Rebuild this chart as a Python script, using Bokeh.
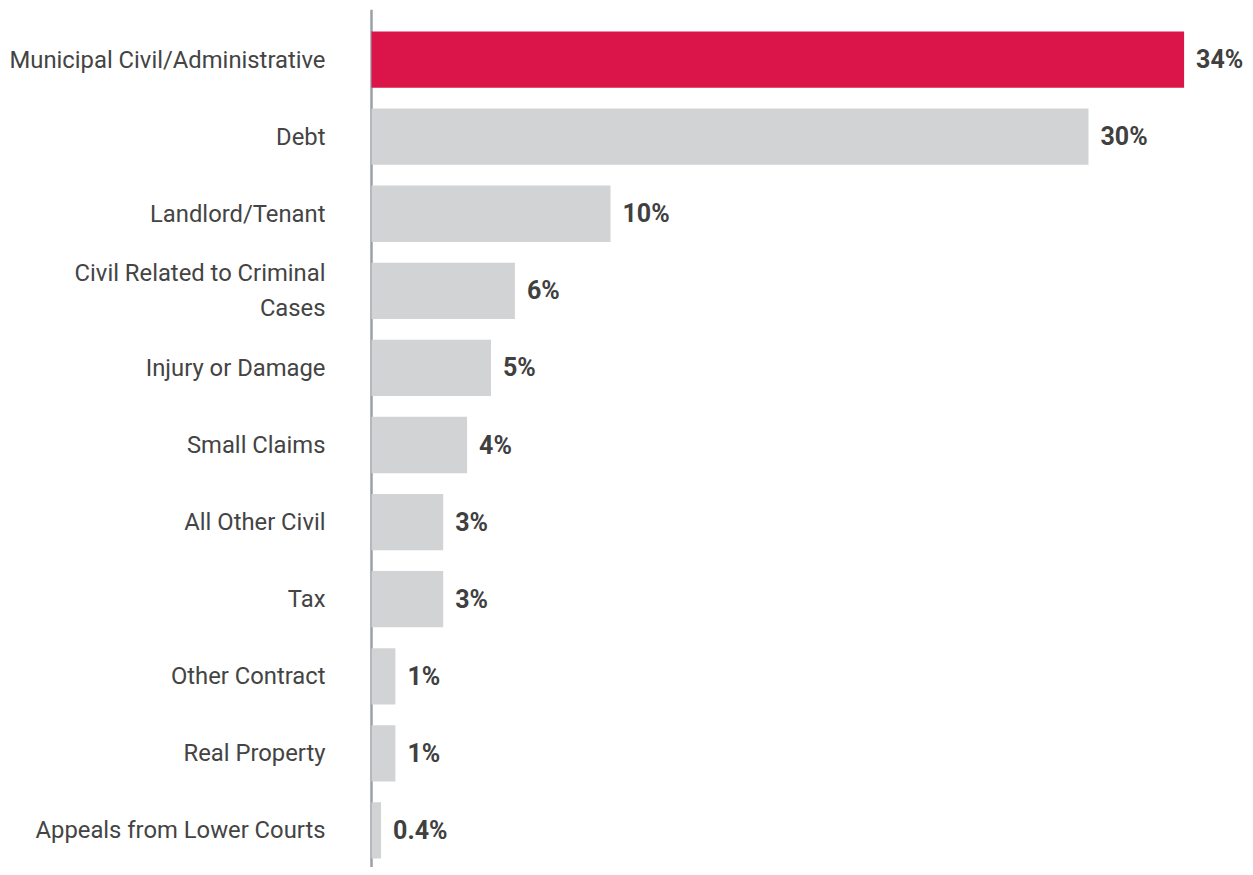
from bokeh.plotting import figure
from bokeh.models import Range1d, FixedTicker, Span, ColumnDataSource
from bokeh.core.properties import value
from bokeh.embed import file_html
from bokeh.resources import INLINE

categories = ["Municipal Civil/Administrative", "Debt", "Landlord/Tenant",
              "Civil Related to Criminal\nCases", "Injury or Damage", "Small Claims",
              "All Other Civil", "Tax", "Other Contract", "Real Property",
              "Appeals from Lower Courts"]
values = [34, 30, 10, 6, 5, 4, 3, 3, 1, 1, 0.4]
value_labels = ["34%", "30%", "10%", "6%", "5%", "4%", "3%", "3%", "1%", "1%", "0.4%"]
highlight = [True] + [False] * 10

RED = "#DB1449"
GRAY = "#D1D3D4"

pos = list(range(len(categories)))
colors = [RED if h else GRAY for h in highlight]
src = ColumnDataSource(dict(y=pos, v=values, c=colors, t=value_labels))

W, H = 1245, 867
left = 368
px_per = 23.9
x_start = -3 / px_per
x_end = x_start + (W - left) / px_per

p = figure(width=W, height=H, output_backend="svg", toolbar_location=None,
           x_range=Range1d(x_start, x_end),
           y_range=Range1d(10 + 37 / 77, -50 / 77),
           min_border_left=left, min_border_right=0, min_border_top=9,
           min_border_bottom=0)
p.outline_line_color = None
p.grid.visible = False
p.background_fill_color = "white"
p.border_fill_color = "white"

p.add_layout(Span(location=0, dimension="height", line_color="#9AA0A6",
                  line_width=2.5, level="underlay"))

p.hbar(y="y", right="v", left=0, height=0.73, fill_color="c", line_color=None,
       source=src)
p.text(x="v", y="y", text="t", source=src, x_offset=12, text_baseline="middle",
       text_align="left", text_font=value("Roboto"), text_font_style="bold",
       text_font_size="25px", text_color="#404040")

p.xaxis.visible = False
ax = p.yaxis[0]
ax.ticker = FixedTicker(ticks=pos)
ax.major_label_overrides = {i: c for i, c in enumerate(categories)}
ax.axis_line_color = None
ax.major_tick_line_color = None
ax.minor_tick_line_color = None
ax.major_tick_out = 0
ax.major_tick_in = 0
ax.major_label_standoff = 43
ax.major_label_text_font = "Roboto"
ax.major_label_text_font_size = "23.8px"
ax.major_label_text_color = "#444444"
ax.major_label_text_line_height = 1.26

open("out.html", "w").write(file_html(p, INLINE))
